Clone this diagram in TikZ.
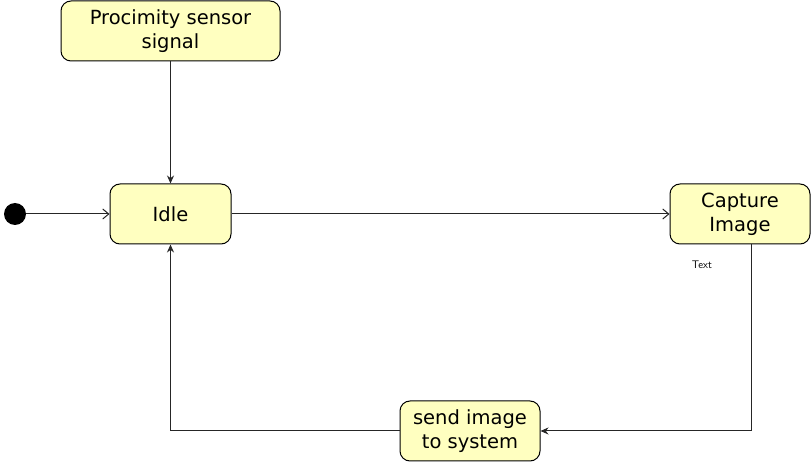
\documentclass[tikz,border=0pt]{standalone}
\usepackage{fontspec}
\setmainfont{DejaVu Sans}
\usetikzlibrary{arrows.meta}
\definecolor{boxfill}{HTML}{FFFFC0}
\begin{document}
\begin{tikzpicture}[x=1pt,y=-1pt,
  state/.style={draw=black, fill=boxfill, rounded corners=10pt, line width=1pt,
    align=center, font=\fontsize{19.5}{24}\selectfont, inner sep=0pt},
  conn/.style={draw=black!85, line width=1pt},
  filledtip/.style={-{Stealth[length=8pt,width=7pt]}},
  opentip/.style={-{Straight Barb[length=6pt,width=10pt]}}]
\useasboundingbox (0,0) rectangle (812,462);
\node[state, minimum width=219pt, minimum height=60pt] (prox) at (170.5,31) {Procimity sensor\\signal};
\node[state, minimum width=121pt, minimum height=60pt] (idle) at (170.5,214) {Idle};
\node[state, minimum width=140pt, minimum height=60pt] (cap) at (740,214) {Capture\\Image};
\node[state, minimum width=140pt, minimum height=60pt] (send) at (470,431) {send image\\to system};
\node[circle, fill=black, minimum size=22pt, inner sep=0pt] (init) at (15,214) {};
\node[font=\fontsize{11}{13}\selectfont\sffamily] (lbl) at (702,265) {Text};
\coordinate (capdown) at (751,244);
\coordinate (c1) at (751,431);
\coordinate (c2) at (170.5,431);
\draw[conn, filledtip] (prox) -- (idle);
\draw[conn, opentip] (init) -- (idle);
\draw[conn, opentip] (idle) -- (cap);
\draw[conn, filledtip] (capdown) -- (c1) -- (send);
\draw[conn, filledtip] (send) -- (c2) -- (idle.south);
\end{tikzpicture}
\end{document}
